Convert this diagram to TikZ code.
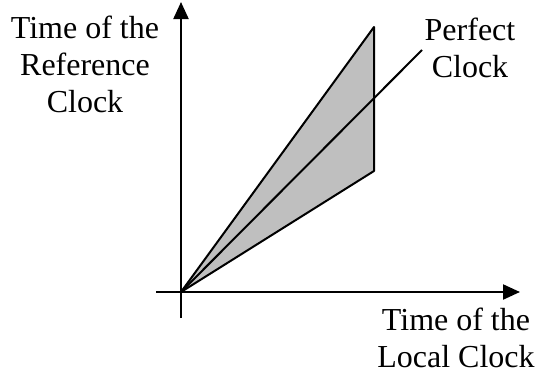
\documentclass[tikz,border=0pt]{standalone}
\usepackage{fontspec}
\setmainfont{Liberation Serif}
\usetikzlibrary{arrows.meta}

\begin{document}
\begin{tikzpicture}[
      x=1pt,
      y=-1pt,
      axis/.style={line width=2.2pt,-{Triangle[length=17pt,width=15pt]}},
      edge/.style={line width=2pt,line join=round},
      lbl/.style={align=center,inner sep=0pt,font=\fontsize{32}{37}\selectfont}
    ]
    \useasboundingbox (0,0) rectangle (536,378);
    \coordinate (O) at (181,292);
    \coordinate (ytop) at (181,2);
    \coordinate (ybot) at (181,318);
    \coordinate (xleft) at (156,292);
    \coordinate (xright) at (520,292);
    \coordinate (fast) at (374,27);
    \coordinate (slow) at (374,171);
    \coordinate (ideal) at (422,50);
    \fill[gray!50] (O) -- (fast) -- (slow) -- cycle;
    \draw[edge] (O) -- (fast) -- (slow) -- cycle;
    \draw[edge] (O) -- (ideal);
    \draw[axis] (ybot) -- (ytop);
    \draw[axis] (xleft) -- (xright);
    \node (ylabel) [lbl,anchor=base] at (85,112) {Time of the\\Reference\\Clock};
    \node (perfect) [lbl,anchor=base] at (470,77) {Perfect\\Clock};
    \node (xlabel) [lbl,anchor=base] at (456,367) {Time of the\\Local Clock};
  \end{tikzpicture}
\end{document}
